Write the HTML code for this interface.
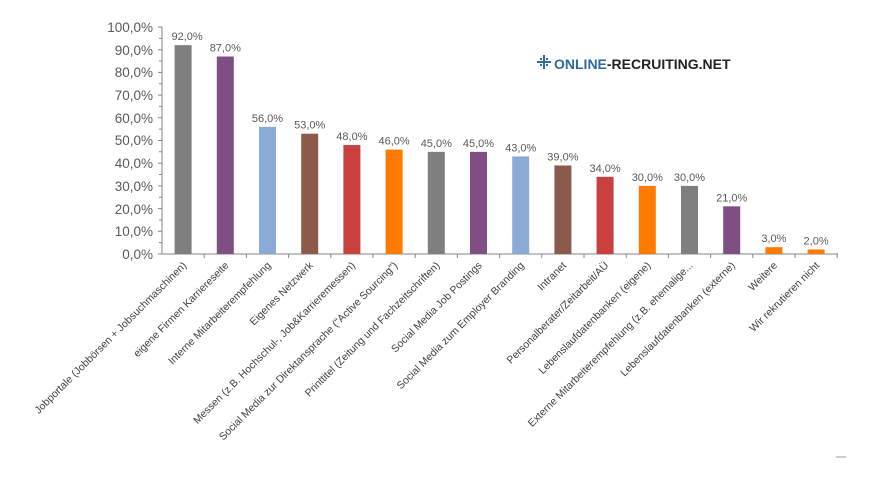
<!DOCTYPE html>
<html><head><style>body{margin:0;background:#fff;}</style></head><body>
<svg width="876" height="483" viewBox="0 0 876 483" xmlns="http://www.w3.org/2000/svg" font-family="Liberation Sans, sans-serif">
<g fill="#595959" font-size="13.5" text-anchor="end">
<text x="153" y="32">100,0%</text><text x="153" y="55">90,0%</text><text x="153" y="77">80,0%</text>
<text x="153" y="100">70,0%</text><text x="153" y="123">60,0%</text><text x="153" y="145">50,0%</text>
<text x="153" y="168">40,0%</text><text x="153" y="191">30,0%</text><text x="153" y="214">20,0%</text>
<text x="153" y="236">10,0%</text><text x="153" y="259">0,0%</text>
</g>
<g stroke="#868686" stroke-width="1">
<line x1="162" y1="27" x2="162" y2="254"/>
<line x1="162" y1="254" x2="838" y2="254"/>
<path d="M158 27H162M158 49.7H162M158 72.4H162M158 95.1H162M158 117.8H162M158 140.5H162M158 163.2H162M158 185.9H162M158 208.6H162M158 231.3H162M158 254H162"/>
<path d="M159 38.4H162M159 61H162M159 83.7H162M159 106.4H162M159 129.1H162M159 151.8H162M159 174.5H162M159 197.2H162M159 220H162M159 242.6H162"/>
<path d="M204.2 254V258M246.4 254V258M288.6 254V258M330.8 254V258M373 254V258M415.2 254V258M457.4 254V258M499.6 254V258M541.8 254V258M584 254V258M626.2 254V258M668.4 254V258M710.6 254V258M752.8 254V258M795 254V258M837.2 254V258"/>
</g>
<g id="bars"></g>
<g font-size="11" fill="#595959" id="vals" text-anchor="middle"></g>
<g font-size="10.5" fill="#404040" id="cats" text-anchor="end"></g>
<g transform="translate(537,57)">
<g fill="#2d6a9a"><rect x="0" y="4" width="2" height="2"/><rect x="3" y="1" width="2" height="2"/><rect x="3" y="4" width="2" height="2"/><rect x="3" y="7" width="2" height="2"/><rect x="6" y="-2" width="2" height="14"/><rect x="0" y="4" width="14" height="2"/><rect x="9" y="1" width="2" height="2"/><rect x="9" y="7" width="2" height="2"/><rect x="12" y="4" width="2" height="2"/></g>
<text x="17" y="12" font-size="14" font-weight="bold" fill="#2d6a9a">ONLINE<tspan fill="#222">-RECRUITING.NET</tspan></text>
</g>
<line x1="836" y1="457" x2="846" y2="457" stroke="#999"/>
</svg>
<script>
var d=[[92,"#7f7f7f","Jobportale (Jobbörsen + Jobsuchmaschinen)"],[87,"#7f4f84","eigene Firmen Karriereseite"],[56,"#8aabd6","Interne Mitarbeiterempfehlung"],[53,"#8c5a4a","Eigenes Netzwerk"],[48,"#c9403f","Messen (z.B. Hochschul-, Job&Karrieremessen)"],[46,"#ff7a00","Social Media zur Direktansprache (\"Active Sourcing\")"],[45,"#7f7f7f","Printtitel (Zeitung und Fachzeitschriften)"],[45,"#7f4f84","Social Media Job Postings"],[43,"#8aabd6","Social Media zum Employer Branding"],[39,"#8c5a4a","Intranet"],[34,"#c9403f","Personalberater/Zeitarbeit/AÜ"],[30,"#ff7a00","Lebenslaufdatenbanken (eigene)"],[30,"#7f7f7f","Externe Mitarbeiterempfehlung (z.B. ehemalige..."],[21,"#7f4f84","Lebenslaufdatenbanken (externe)"],[3,"#ff7a00","Weitere"],[2,"#ff7a00","Wir rekrutieren nicht"]];
var ns="http://www.w3.org/2000/svg",b=document.getElementById("bars"),v=document.getElementById("vals"),c=document.getElementById("cats");
d.forEach(function(e,i){var cx=162+21.1+i*42.2,h=e[0]*2.27;
var r=document.createElementNS(ns,"rect");r.setAttribute("x",cx-8.5);r.setAttribute("y",254-h);r.setAttribute("width",17);r.setAttribute("height",h);r.setAttribute("fill",e[1]);b.appendChild(r);
var t=document.createElementNS(ns,"text");t.setAttribute("x",cx+(i==0?4:0));t.setAttribute("y",254-h-5);t.textContent=e[0]+",0%";v.appendChild(t);
var l=document.createElementNS(ns,"text");l.setAttribute("transform","translate("+(cx+4)+",266) rotate(-45)");l.textContent=e[2];c.appendChild(l);});
</script>
</body></html>
